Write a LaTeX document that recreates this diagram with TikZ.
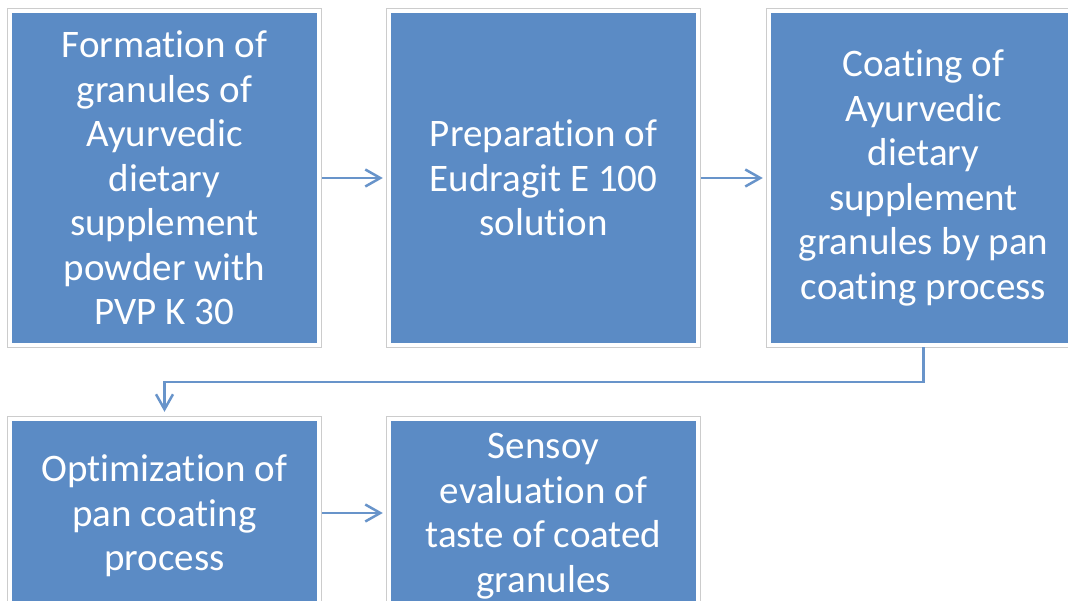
\documentclass[tikz,border=0pt]{standalone}
\usepackage{fontspec}
\setmainfont{Carlito}[RawFeature={-liga}]
\usetikzlibrary{arrows.meta}
\definecolor{boxblue}{RGB}{91,139,197}
\definecolor{linkblue}{RGB}{104,148,202}
\definecolor{framegray}{RGB}{204,204,204}
\begin{document}
\begin{tikzpicture}[x=1pt,y=-1pt,
  stepbox/.style={fill=boxblue, text=white, align=center, minimum width=305pt,
    minimum height=330pt, inner sep=0pt, font=\fontsize{39}{44.5}\selectfont},
  shortbox/.style={stepbox, minimum height=190pt},
  framerect/.style={draw=framegray, line width=1pt},
  link/.style={draw=linkblue, line width=2.5pt,
    -{Straight Barb[length=15pt,width=17pt]}}]
\useasboundingbox (0,0) rectangle (1068,601);
\node[stepbox] (b1) at (164.5,178) {Formation of\\granules of\\Ayurvedic\\dietary\\supplement\\powder with\\PVP K 30};
\node[stepbox] (b2) at (543.5,178) {Preparation of\\Eudragit E 100\\solution};
\node[stepbox] (b3) at (923.5,178) {Coating of\\Ayurvedic\\dietary\\supplement\\granules by pan\\coating process};
\node[shortbox] (b4) at (164.5,516) {Optimization of\\pan coating\\process};
\node[shortbox] (b5) at (543.5,516) {Sensoy\\evaluation of\\taste of coated\\granules};
\foreach \n in {b1,b2,b3,b4,b5}
  \draw[framerect] ([shift={(-4.5,-4.5)}]\n.north west) rectangle ([shift={(4.5,4.5)}]\n.south east);
\coordinate (bend) at (923.5,382);
\draw[link] ([xshift=5pt]b1.east) -- ([xshift=-8pt]b2.west);
\draw[link] ([xshift=5pt]b2.east) -- ([xshift=-8pt]b3.west);
\draw[link] ([yshift=-4pt]b3.south) -- (bend) -| ([yshift=9pt]b4.north);
\draw[link] ([xshift=5pt]b4.east |- b4.center) ++(0,-3) -- ([xshift=-8pt]b5.west |- 0,513);
\end{tikzpicture}
\end{document}
